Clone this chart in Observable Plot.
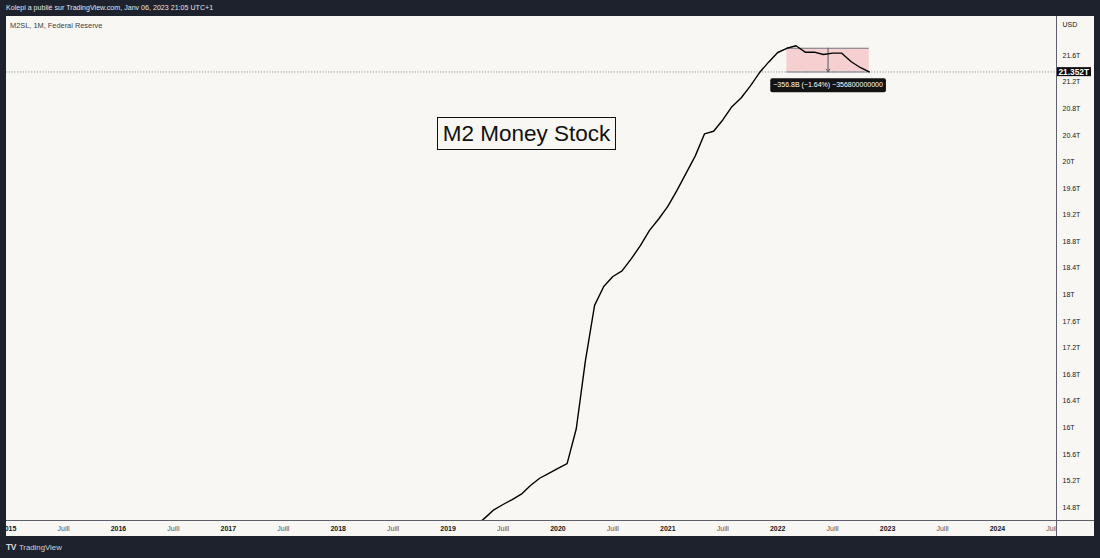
<!DOCTYPE html>
<html><head><meta charset="utf-8">
<script src="https://cdn.jsdelivr.net/npm/d3@7"></script>
<script src="https://cdn.jsdelivr.net/npm/@observablehq/plot@0.6"></script>
<style>
html,body{margin:0;padding:0;width:1100px;height:558px;overflow:hidden;background:#1e222d;font-family:"Liberation Sans",Arial,sans-serif;}
#header{position:absolute;left:6px;top:3.5px;font-size:7.1px;color:#e0e3eb;white-space:nowrap;}
#chart{position:absolute;left:6px;top:16px;width:1088px;height:520px;background:#f8f7f3;overflow:hidden;}
#chart svg{position:absolute;left:0;top:0;}
#series{position:absolute;left:10px;top:21px;font-size:7.4px;color:#3b3e48;white-space:nowrap;}
#title{position:absolute;left:437px;top:117px;width:177px;height:31px;border:1.5px solid #111;background:#f8f7f3;font-family:"Liberation Sans",Arial,sans-serif;font-size:22.5px;color:#111;text-align:center;line-height:31px;white-space:nowrap;}
#vsep{position:absolute;left:1056px;top:16px;width:1px;height:520px;background:#5d606b;}
#hsep{position:absolute;left:6px;top:520px;width:1088px;height:1px;background:#5d606b;}
#corner{position:absolute;left:1057px;top:521px;width:37px;height:15px;background:#f8f7f3;}
#logo{position:absolute;left:6px;top:542px;font-size:7.8px;color:#d1d4dc;white-space:nowrap;}
#logo b{font-size:8.5px;letter-spacing:-0.5px;margin-right:3px;}
</style></head>
<body>
<div id="header">Kolepi a publié sur TradingView.com, Janv 06, 2023 21:05 UTC+1</div>
<div id="chart"></div>
<div id="series">M2SL, 1M, Federal Reserve</div>
<div id="title">M2 Money Stock</div>
<div id="vsep"></div>
<div id="hsep"></div>
<div id="corner"></div>
<div id="logo"><b>TV</b>TradingView</div>
<script>
// Monthly M2SL, trillions USD
const months = [
  "2019-04","2019-05","2019-06","2019-07","2019-08","2019-09","2019-10","2019-11","2019-12",
  "2020-01","2020-02","2020-03","2020-04","2020-05","2020-06","2020-07","2020-08","2020-09","2020-10","2020-11","2020-12",
  "2021-01","2021-02","2021-03","2021-04","2021-05","2021-06","2021-07","2021-08","2021-09","2021-10","2021-11","2021-12",
  "2022-01","2022-02","2022-03","2022-04","2022-05","2022-06","2022-07","2022-08","2022-09","2022-10","2022-11"
];
const m2 = [
  14.52,14.64,14.765,14.845,14.92,15.00,15.13,15.24,15.315,
  15.39,15.46,15.985,17.01,17.84,18.125,18.275,18.36,18.54,18.74,18.97,19.14,
  19.33,19.57,19.83,20.09,20.42,20.46,20.63,20.83,20.96,21.14,21.34,21.50,
  21.645,21.7088,21.746,21.65,21.65,21.615,21.635,21.635,21.51,21.42,21.352
];
const yTicks = [14.8,15.2,15.6,16,16.4,16.8,17.2,17.6,18,18.4,18.8,19.2,19.6,20,20.4,20.8,21.2,21.6];
const yearTicks = [2015,2016,2017,2018,2019,2020,2021,2022,2023,2024];
const julyTicks = [2015,2016,2017,2018,2019,2020,2021,2022,2023,2024];
const julyLabel = "Juill";
const measureFrom = "2022-02", measureTo = "2022-11";

const idx = s => { const [y, mo] = s.split("-").map(Number); return (y - 2015) * 12 + (mo - 1); };
const data = months.map((s, i) => ({m: idx(s), v: m2[i]}));
const last = m2[m2.length - 1];
const hi = m2[months.indexOf(measureFrom)];
const lo = m2[months.indexOf(measureTo)];
const change = Math.round((lo - hi) * 1e4) / 1e4; // trillions
const pct = change / hi * 100;
const minus = "\u2212";
const fmtSigned = s => s.replace("-", minus);
const measureText = fmtSigned((change * 1000).toFixed(1) + "B") + " (" + fmtSigned(pct.toFixed(2) + "%") + ") " + fmtSigned(String(Math.round(change * 1e12)));
const priceText = last.toFixed(3) + "T";
const measure = [{m1: idx(measureFrom), m2: idx(measureTo), hi, lo, mid: (idx(measureFrom) + idx(measureTo)) / 2}];

const chart = Plot.plot({
  width: 1088, height: 520,
  marginLeft: 0, marginTop: 0, marginRight: 38, marginBottom: 16,
  style: {background: "transparent", fontFamily: "Liberation Sans, Arial, sans-serif", fontSize: "7px", color: "#131722"},
  x: {type: "linear", domain: [-0.229, 114.45], axis: null},
  y: {domain: [14.6044, 22.1867], axis: null},
  marks: [
    Plot.rect(measure, {x1: "m1", x2: "m2", y1: "lo", y2: "hi", fill: "#f23645", fillOpacity: 0.2}),
    Plot.ruleY([last], {stroke: "#8a8d96", strokeWidth: 0.9, strokeDasharray: "1.2,1.6"}),
    Plot.ruleY(measure, {y: "hi", x1: "m1", x2: "m2", stroke: "#787b86", strokeWidth: 1}),
    Plot.ruleY(measure, {y: "lo", x1: "m1", x2: "m2", stroke: "#787b86", strokeWidth: 1}),
    Plot.arrow(measure, {x1: "mid", x2: "mid", y1: "hi", y2: "lo", stroke: "#55585f", strokeWidth: 1, headLength: 5}),
    Plot.line(data, {x: "m", y: "v", stroke: "#000", strokeWidth: 1.4, clip: true}),
    Plot.axisY(yTicks, {anchor: "right", tickSize: 0, tickPadding: 6, label: null, tickFormat: v => `${+v.toFixed(1)}T`, fill: "#131722"}),
    Plot.axisX(yearTicks.map(y => (y - 2015) * 12), {anchor: "bottom", tickSize: 0, tickPadding: 6, label: null, tickFormat: m => String(2015 + m / 12), fontWeight: "bold", fill: "#131722"}),
    Plot.axisX(julyTicks.map(y => (y - 2015) * 12 + 6), {anchor: "bottom", tickSize: 0, tickPadding: 6, label: null, tickFormat: () => julyLabel, fill: "#50535e"}),
    Plot.text(["USD"], {frameAnchor: "top-right", textAnchor: "start", lineAnchor: "middle", dx: 6, dy: 8, fill: "#131722"}),
    Plot.text(measure, {x: "mid", y: "lo", dy: 13, text: () => measureText, fill: "white", fontSize: 7}),
    Plot.text([last], {y: d => d, frameAnchor: "right", textAnchor: "start", dx: 2, text: () => priceText, fill: "white", fontWeight: "bold", fontSize: 8.3})
  ]
});
document.getElementById("chart").appendChild(chart);

function addBg(svg, content, fill, padX, padY, rx) {
  Array.from(svg.querySelectorAll("text")).filter(t => t.textContent === content).forEach(t => {
    const b = t.getBBox();
    const r = document.createElementNS("http://www.w3.org/2000/svg", "rect");
    r.setAttribute("x", b.x - padX);
    r.setAttribute("y", b.y - padY);
    r.setAttribute("width", b.width + 2 * padX);
    r.setAttribute("height", b.height + 2 * padY);
    r.setAttribute("rx", rx);
    r.setAttribute("style", "fill:" + fill + ";stroke:none");
    if (t.getAttribute("transform")) r.setAttribute("transform", t.getAttribute("transform"));
    t.parentNode.insertBefore(r, t);
  });
}
addBg(chart, measureText, "#131313", 3, 3, 2);
addBg(chart, priceText, "#0b0b0b", 2, -0.5, 0);
</script>
</body></html>
